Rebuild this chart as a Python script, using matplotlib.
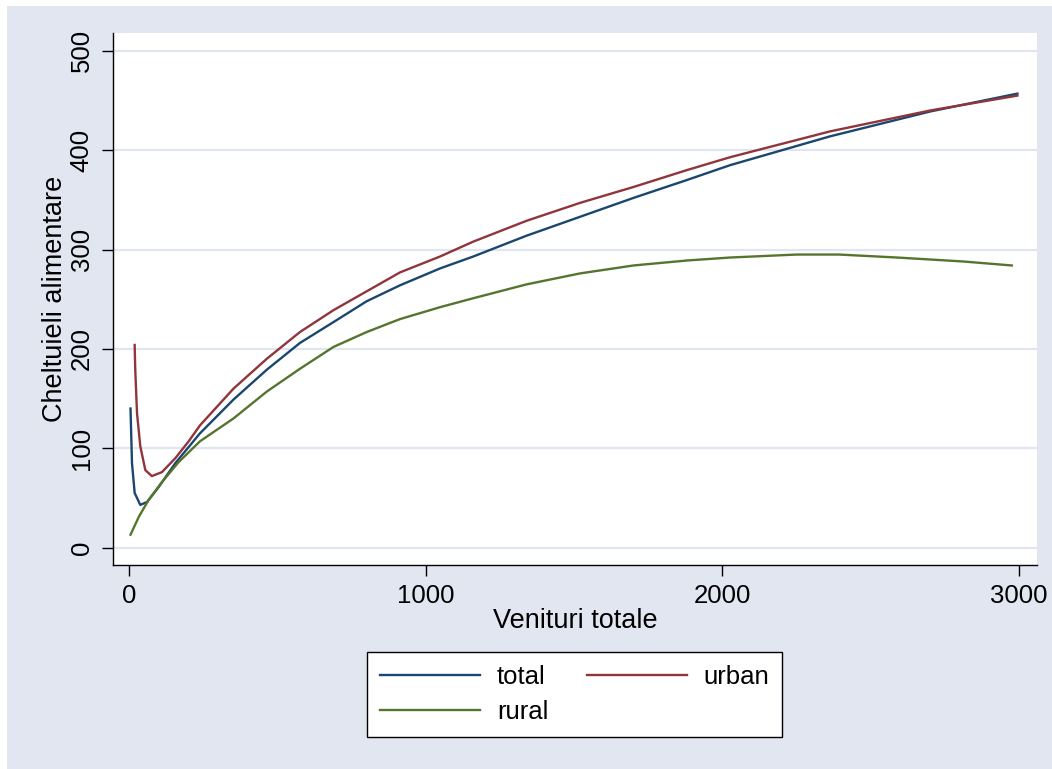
import matplotlib
matplotlib.use("Agg")
import matplotlib.pyplot as plt
from matplotlib.patches import Rectangle

# valori
total_x = [5, 10, 19, 38, 61, 100, 156, 239, 352, 464, 576, 689, 801, 913, 1048,
           1160, 1340, 1520, 1700, 1880, 2026, 2363, 2700, 2994]
total_y = [140, 85, 55, 43, 46, 61, 85, 115, 149, 179, 206, 227, 248, 264, 281,
           293, 314, 333, 352, 370, 385, 414, 439, 457]

urban_x = [19, 21, 27, 38, 55, 77, 111, 156, 201, 239, 352, 464, 576, 689, 801,
           913, 1048, 1160, 1340, 1520, 1700, 1880, 2026, 2363, 2700, 2994]
urban_y = [204, 179, 135, 102, 78, 72, 76, 90, 107, 123, 160, 190, 217, 239, 258,
           277, 293, 308, 329, 347, 363, 380, 393, 419, 440, 455]

rural_x = [5, 33, 66, 111, 167, 239, 352, 464, 576, 689, 801, 913, 1048, 1160,
           1340, 1520, 1700, 1880, 2026, 2250, 2393, 2588, 2812, 2975]
rural_y = [13, 31, 48, 66, 86, 107, 130, 157, 180, 202, 217, 230, 242, 251,
           265, 276, 284, 289, 292, 295, 295, 292, 288, 284]

x_ticks = [0, 1000, 2000, 3000]
y_ticks = [0, 100, 200, 300, 400, 500]

plt.rcParams['font.family'] = ['Liberation Sans', 'DejaVu Sans']

bg = '#E2E6F0'
W, H = 1052, 769
fig = plt.figure(figsize=(W / 100, H / 100), dpi=100, facecolor='white')
# fundalul zonei graficului (cu mica margine alba sus/stanga)
fig.patches.append(Rectangle((7 / W, 0), 1 - 7 / W, 1 - 6 / H, transform=fig.transFigure,
                             facecolor=bg, edgecolor='none', zorder=-5))

ax = fig.add_axes([113 / W, 1 - 565 / H, 924 / W, 532 / H])
ax.set_facecolor('white')

ax.plot(total_x, total_y, color='#1A476F', lw=1.7, label='total', zorder=3)
ax.plot(urban_x, urban_y, color='#90353B', lw=1.7, label='urban', zorder=3)
ax.plot(rural_x, rural_y, color='#55752F', lw=1.7, label='rural', zorder=3)

ax.set_xlim(-54, 3060)
ax.set_ylim(-17.5, 518)
ax.set_xticks(x_ticks)
ax.set_yticks(y_ticks)
ax.grid(axis='y', color='#E1E5EF', lw=1.6, zorder=1)
ax.set_axisbelow(True)

for s in ['top', 'right']:
    ax.spines[s].set_visible(False)
for s in ['left', 'bottom']:
    ax.spines[s].set_linewidth(1.0)
    ax.spines[s].set_color('black')

ax.tick_params(axis='both', length=8, width=1.0, labelsize=18.5, pad=6)
plt.setp(ax.get_yticklabels(), rotation=90, va='center')

ax.set_xlabel('Venituri totale', fontsize=19.5, labelpad=0)
ax.set_ylabel('Cheltuieli alimentare', fontsize=19.5, labelpad=1)

h, l = ax.get_legend_handles_labels()
# ordinea: total, urban / rural
order = [0, 2, 1]
leg = fig.legend([h[i] for i in order], [l[i] for i in order], ncol=2,
                 loc='upper left', bbox_to_anchor=(367 / W, 1 - 652 / H),
                 fontsize=18.5, frameon=True, fancybox=False, edgecolor='black',
                 framealpha=1, handlelength=3.9, handletextpad=0.65,
                 columnspacing=1.5, labelspacing=0.45, borderpad=0.5,
                 borderaxespad=0)
leg.get_frame().set_linewidth(1.0)
leg.get_frame().set_facecolor('white')

fig.savefig('out.png', dpi=100, facecolor=fig.get_facecolor())
